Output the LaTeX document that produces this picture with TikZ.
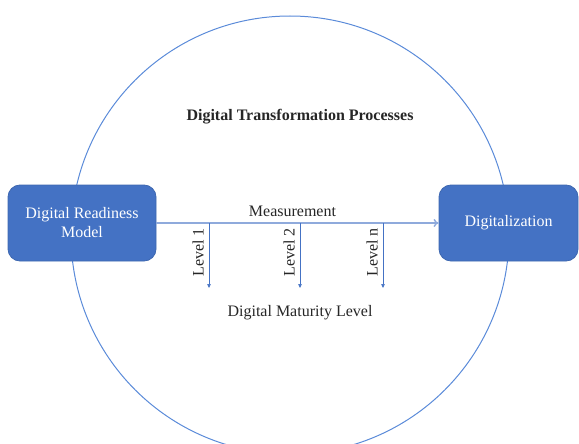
\documentclass[tikz,border=0pt]{standalone}
\usepackage{fontspec}
\setmainfont{Liberation Serif}
\usetikzlibrary{arrows.meta}
\definecolor{boxblue}{HTML}{4472C4}
\definecolor{lineblue}{HTML}{8FAADC}
\definecolor{ringblue}{HTML}{5B8BD9}
\definecolor{txtgray}{HTML}{262626}
\tikzset{
  blockbox/.style={draw=boxblue!90!black, line width=.8pt, fill=boxblue, rounded corners=12pt,
    text=white, align=center, minimum height=76pt, inner sep=0pt,
    font=\fontsize{16}{19}\selectfont},
  plaintext/.style={text=txtgray, inner sep=2pt, font=\fontsize{16}{19}\selectfont},
  ring/.style={draw=ringblue, line width=1pt},
  measline/.style={draw=lineblue, line width=1.4pt, -{To[length=5pt,width=8pt]}},
  lvlarrow/.style={draw=boxblue, line width=.6pt, -{Triangle[length=4pt,width=3.5pt]}}
}
\begin{document}
\begin{tikzpicture}[x=1pt,y=-1pt]
   \useasboundingbox (0,0) rectangle (579,444);
   \draw [ring] (290,235) circle (219pt);
   \node [plaintext, font=\fontsize{16}{19}\selectfont\bfseries] (title) at (300,117) {Digital Transformation Processes};
   \node [blockbox, minimum width=148pt] (drm) at (82,223) {Digital Readiness\\Model};
   \node [blockbox, minimum width=139pt] (dig) at (508.5,223) {Digitalization};
   \draw [measline] (drm.east) -- (dig.west) node[plaintext, midway, above=4pt, xshift=-5pt] (meas) {Measurement};
   % levels
   \coordinate (lv1) at (209,223);
   \coordinate (lv2) at (300,223);
   \coordinate (lvn) at (383,223);
   \draw [lvlarrow] (lv1) -- ++(0,65) node[plaintext, pos=.45, rotate=90, anchor=south, inner sep=5pt] (l1) {Level 1};
   \draw [lvlarrow] (lv2) -- ++(0,65) node[plaintext, pos=.45, rotate=90, anchor=south, inner sep=5pt] (l2) {Level 2};
   \draw [lvlarrow] (lvn) -- ++(0,65) node[plaintext, pos=.45, rotate=90, anchor=south, inner sep=5pt] (ln) {Level n};
   \node [plaintext] (dml) at (300,313) {Digital Maturity Level};
\end{tikzpicture}
\end{document}
